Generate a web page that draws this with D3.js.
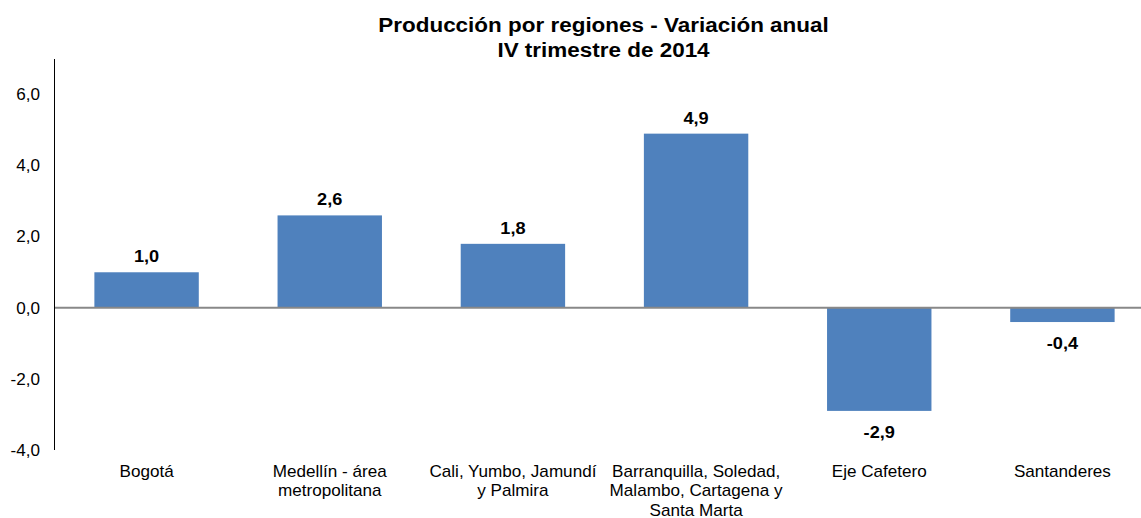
<!DOCTYPE html>
<html>
<head>
<meta charset="utf-8">
<script src="https://cdn.jsdelivr.net/npm/d3@7"></script>
<style>
	body { margin: 0; background: #fff; }
	text { font-family: "Liberation Sans", Arial, sans-serif; fill: #000; }
</style>
</head>
<body>
<div id="svg"></div>
<script>
const width = 1141;
const height = 518;
// the reference text is slightly wider than plain Arial
const SX = 1.07;

const CATEGORIES = [
	["Bogotá"],
	["Medellín - área", "metropolitana"],
	["Cali, Yumbo, Jamundí", "y Palmira"],
	["Barranquilla, Soledad,", "Malambo, Cartagena y", "Santa Marta"],
	["Eje Cafetero"],
	["Santanderes"],
];
const VALUES = [1.0, 2.6, 1.8, 4.9, -2.9, -0.4];
const Y_TICKS = [-4, -2, 0, 2, 4, 6];
const TITLE = ["Producción por regiones - Variación anual", "IV trimestre de 2014"];

const fmt = (v) => v.toFixed(1).replace(".", ",");
const place = (px, py) => "translate(" + px + "," + py + ") scale(" + SX + ",1)";

let svg = d3
	.select("#svg")
	.append("svg")
	.attr("width", width)
	.attr("height", height);

const x = d3
	.scaleBand()
	.domain(d3.range(CATEGORIES.length))
	.range([55, 1154])
	.paddingInner(0.43)
	.paddingOuter(0.215);

const y = d3.scaleLinear().domain([-4, 7]).range([450, 59]);

// title
svg
	.selectAll(".title")
	.data(TITLE)
	.join("text")
	.attr("class", "title")
	.attr("transform", (d, i) => place(603.5, 32 + i * 25))
	.attr("text-anchor", "middle")
	.attr("font-size", "21px")
	.attr("font-weight", "bold")
	.text((d) => d);

// y axis
const yAxis = svg
	.append("g")
	.attr("transform", "translate(54.5,0)")
	.call(d3.axisLeft(y).tickValues(Y_TICKS).tickSize(0).tickFormat(""));
yAxis.select(".domain").attr("stroke", "#000").attr("d", "M0," + y(7) + "V" + y(-4));

svg
	.selectAll(".ytick")
	.data(Y_TICKS)
	.join("text")
	.attr("class", "ytick")
	.attr("transform", (d) => place(40, y(d)))
	.attr("dy", "0.36em")
	.attr("text-anchor", "end")
	.attr("font-size", "16px")
	.text(fmt);

// bars
svg
	.selectAll(".bar")
	.data(VALUES)
	.join("rect")
	.attr("class", "bar")
	.attr("x", (d, i) => x(i))
	.attr("width", x.bandwidth())
	.attr("y", (d) => y(Math.max(0, d)))
	.attr("height", (d) => Math.abs(y(d) - y(0)))
	.attr("fill", "#4F81BD");

// zero line
svg
	.append("line")
	.attr("x1", 55)
	.attr("x2", width)
	.attr("y1", y(0))
	.attr("y2", y(0))
	.attr("stroke", "#888")
	.attr("stroke-width", 2);

// value labels
svg
	.selectAll(".value")
	.data(VALUES)
	.join("text")
	.attr("class", "value")
	.attr("transform", (d, i) =>
		place(x(i) + x.bandwidth() / 2, d >= 0 ? y(d) - 10 : y(d) + 27)
	)
	.attr("text-anchor", "middle")
	.attr("font-size", "17px")
	.attr("font-weight", "bold")
	.text(fmt);

// category labels
const cats = svg
	.selectAll(".cat")
	.data(CATEGORIES)
	.join("text")
	.attr("class", "cat")
	.attr("transform", (d, i) => place(x(i) + x.bandwidth() / 2, 477))
	.attr("text-anchor", "middle")
	.attr("font-size", "16px");
cats
	.selectAll("tspan")
	.data((d) => d)
	.join("tspan")
	.attr("x", 0)
	.attr("y", (d, j) => j * 19.3)
	.text((d) => d);
</script>
</body>
</html>
